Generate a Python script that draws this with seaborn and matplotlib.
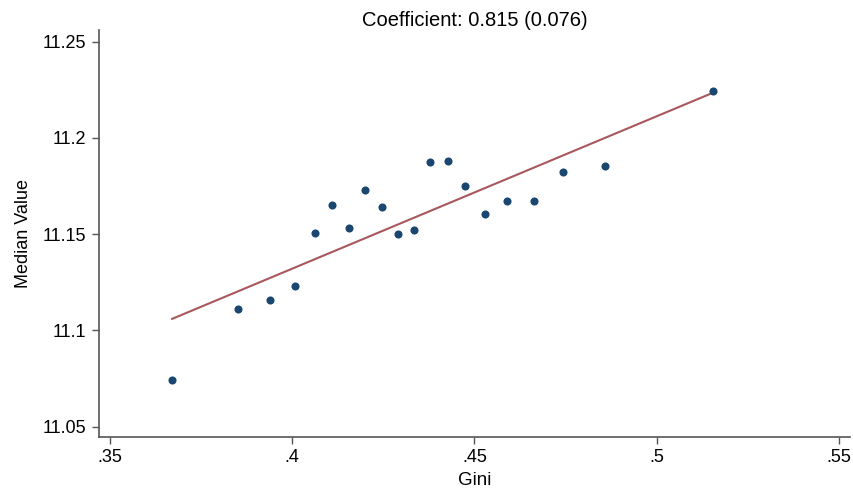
import matplotlib
matplotlib.use("Agg")
import matplotlib.pyplot as plt
import seaborn as sns
import numpy as np
import pandas as pd

gini = [0.367, 0.385, 0.3938, 0.4007, 0.4062, 0.4108, 0.4155, 0.4201, 0.4245, 0.4289,
        0.4333, 0.4379, 0.4426, 0.4475, 0.4530, 0.4590, 0.4662, 0.4744, 0.4859, 0.5155]
median_value = [11.0740, 11.1112, 11.1160, 11.1230, 11.1508, 11.1650, 11.1532, 11.1730, 11.1640, 11.1500,
                11.1520, 11.1872, 11.1882, 11.1752, 11.1605, 11.1670, 11.1672, 11.1822, 11.1855, 11.2242]
x_ticks = [0.35, 0.40, 0.45, 0.50, 0.55]
x_tick_labels = [".35", ".4", ".45", ".5", ".55"]
y_ticks = [11.05, 11.10, 11.15, 11.20, 11.25]
y_tick_labels = ["11.05", "11.1", "11.15", "11.2", "11.25"]
title = "Coefficient: 0.815 (0.076)"

df = pd.DataFrame({"Gini": gini, "Median Value": median_value})

sns.set_theme(style="white")
plt.rcParams["font.family"] = ["Liberation Sans", "DejaVu Sans"]

fig = plt.figure(figsize=(8.54, 4.92), dpi=100)
ax = fig.add_axes([0.1159, 0.1118, 0.8794, 0.8272])

sns.regplot(data=df, x="Gini", y="Median Value", ci=None, truncate=True, ax=ax,
            scatter_kws=dict(color="#1a476f", s=34, linewidths=0, alpha=1, zorder=3),
            line_kws=dict(color="#a8585c", lw=1.5, zorder=2))

ax.set_xlim(0.347, 0.553)
ax.set_ylim(11.0446, 11.256)
ax.set_xticks(x_ticks)
ax.set_xticklabels(x_tick_labels)
ax.set_yticks(y_ticks)
ax.set_yticklabels(y_tick_labels)
ax.tick_params(axis="both", direction="out", length=5, width=1, color="#555555",
               labelsize=13, labelcolor="black", left=True, bottom=True, pad=4)
for side in ["top", "right"]:
    ax.spines[side].set_visible(False)
for side in ["left", "bottom"]:
    ax.spines[side].set_color("#555555")
    ax.spines[side].set_linewidth(1.2)
ax.set_xlabel("Gini", fontsize=13.5, color="black", labelpad=4)
ax.set_ylabel("Median Value", fontsize=13, color="black", labelpad=8)
ax.set_title(title, fontsize=14.5, color="black", pad=3)

fig.savefig("out.png", dpi=100, facecolor="white")
